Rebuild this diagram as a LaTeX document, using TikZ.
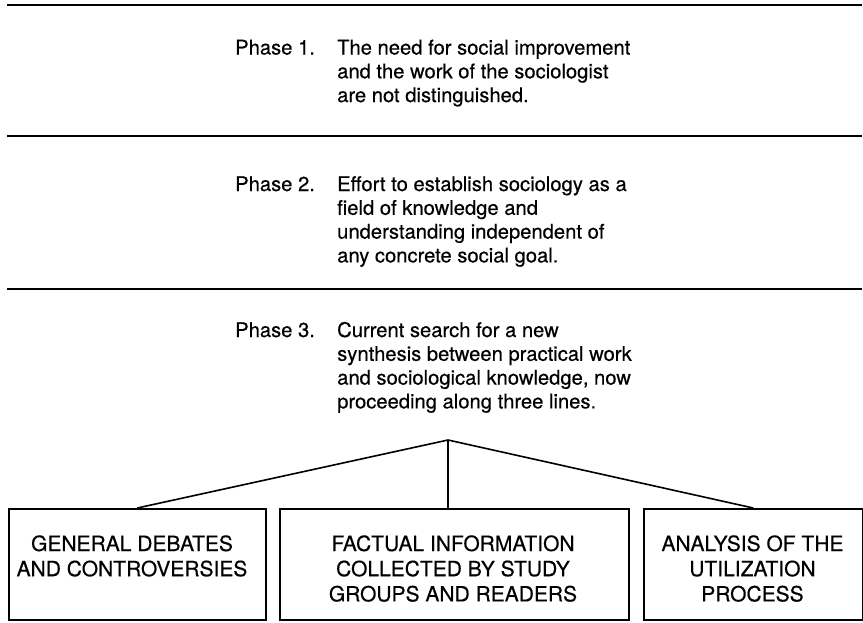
\documentclass[tikz,border=0pt]{standalone}
\usepackage{fontspec}
\setmainfont{TeX Gyre Heros}[FakeBold=0.4]
\usepackage{array}
\begin{document}
\begin{tikzpicture}[x=1pt,y=-1pt,
  sepline/.style={line width=2.4pt},
  phasetext/.style={anchor=base west, inner sep=0pt, font=\fontsize{20.2}{23.8}\selectfont},
  box/.style={draw, line width=1.5pt, anchor=north west, inner sep=0pt, minimum height=111pt},
  boxtext/.style={anchor=base, inner sep=0pt, font=\fontsize{21}{25.2}\selectfont},
  conn/.style={line width=1.6pt}]
\useasboundingbox (0,0) rectangle (863,622);
% separators
\draw[sepline] (7,5) -- (862,5);
\draw[sepline] (7,136) -- (862,136);
\draw[sepline] (7,289) -- (862,289);
% phases
\node[phasetext] (p1) at (235,54.5) {\begin{tabular}[t]{@{}p{102pt}@{}l@{}}
Phase 1. & The need for social improvement\\
 & and the work of the sociologist\\
 & are not distinguished.\end{tabular}};
\node[phasetext] (p2) at (235,191) {\begin{tabular}[t]{@{}p{102pt}@{}l@{}}
Phase 2. & Effort to establish sociology as a\\
 & field of knowledge and\\
 & understanding independent of\\
 & any concrete social goal.\end{tabular}};
\node[phasetext] (p3) at (235,337) {\begin{tabular}[t]{@{}p{102pt}@{}l@{}}
Phase 3. & Current search for a new\\
 & synthesis between practical work\\
 & and sociological knowledge, now\\
 & proceeding along three lines.\end{tabular}};
% boxes
\node[box, minimum width=257pt] (b1) at (8,508) {};
\node[box, minimum width=349pt] (b2) at (279,508) {};
\node[box, minimum width=219pt] (b3) at (643,508) {};
\node[boxtext] (t1) at (132,551) {\begin{tabular}[t]{@{}c@{}}GENERAL DEBATES\\AND CONTROVERSIES\end{tabular}};
\node[boxtext] (t2) at (453,551) {\begin{tabular}[t]{@{}c@{}}FACTUAL INFORMATION\\COLLECTED BY STUDY\\GROUPS AND READERS\end{tabular}};
\node[boxtext] (t3) at (752.5,551) {\begin{tabular}[t]{@{}c@{}}ANALYSIS OF THE\\UTILIZATION\\PROCESS\end{tabular}};
% connectors
\coordinate (apex) at (448,440);
\draw[conn] (apex) -- (b1.north);
\draw[conn] (apex) -- (apex |- b2.north);
\draw[conn] (apex) -- (b3.north);
\end{tikzpicture}
\end{document}
